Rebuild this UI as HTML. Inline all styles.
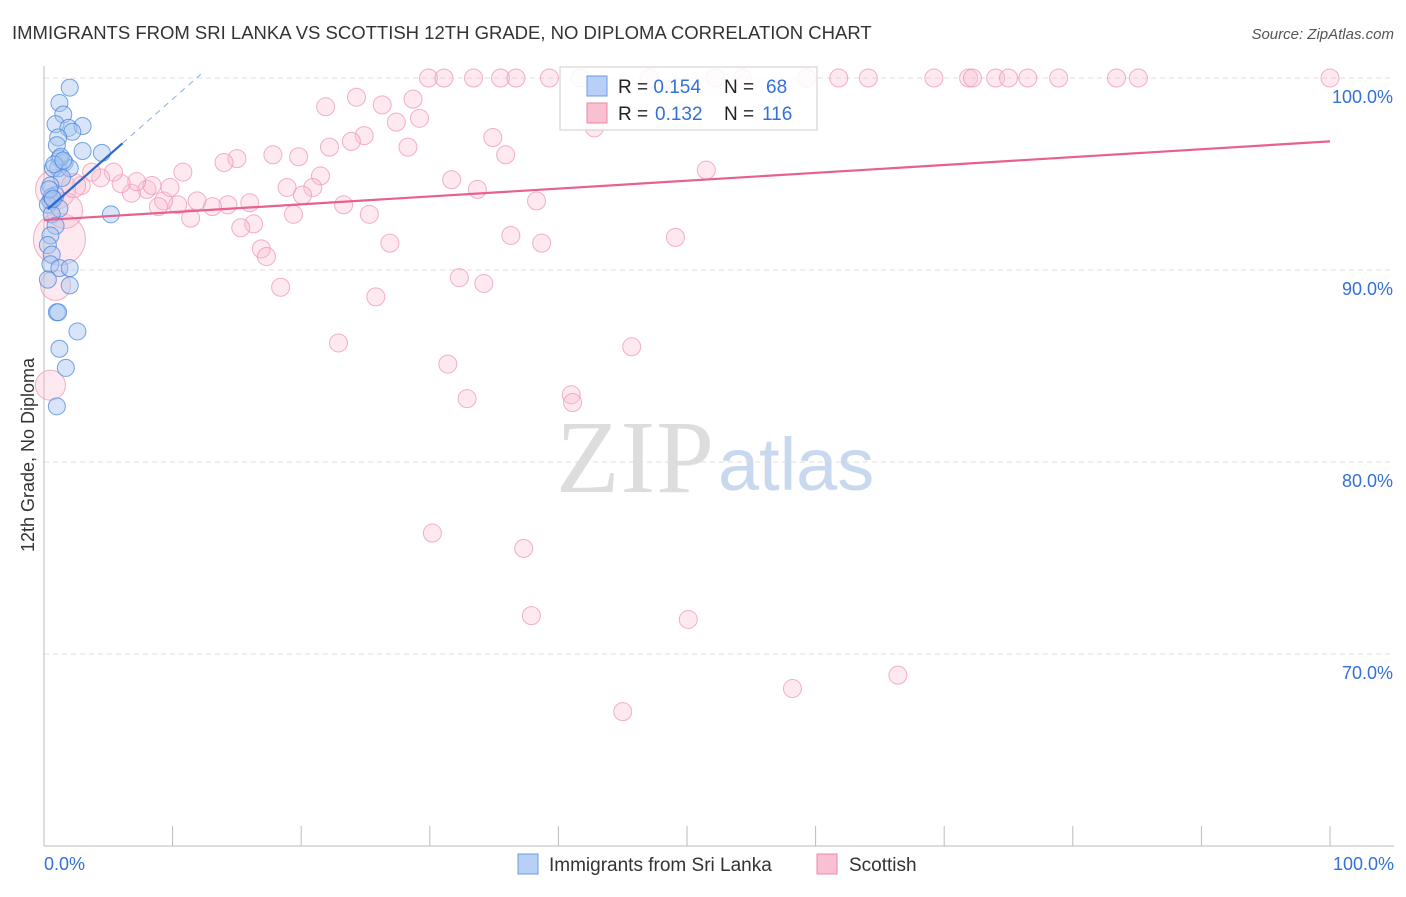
<!DOCTYPE html>
<html><head><meta charset="utf-8"><style>
body{margin:0;background:#fff;font-family:"Liberation Sans",sans-serif;}
</style></head><body>
<svg id="chart" width="1406" height="892" xmlns="http://www.w3.org/2000/svg" font-family="Liberation Sans, sans-serif">
<text x="12" y="39" font-size="18.5" fill="#333">IMMIGRANTS FROM SRI LANKA VS SCOTTISH 12TH GRADE, NO DIPLOMA CORRELATION CHART</text>
<text x="1394" y="39" font-size="15" fill="#555" text-anchor="end" font-style="italic">Source: ZipAtlas.com</text>
<text transform="translate(34,455) rotate(-90)" font-size="18" fill="#333" text-anchor="middle">12th Grade, No Diploma</text>
<text x="714" y="492" font-size="104" text-anchor="end" fill="#ddd" font-family="Liberation Serif, serif" textLength="158">ZIP</text>
<text x="718" y="490" font-size="74" fill="#c8d8ee">atlas</text>
<g id="grid"></g><g id="pts"></g><g id="lines"></g>
<g>
<rect x="560" y="67" width="257" height="63" fill="#fff" fill-opacity="0.85" stroke="#ccc"/>
<rect x="587" y="76" width="20" height="20" fill="#b8d0f5" stroke="#6a9de8"/>
<rect x="587" y="103" width="20" height="20" fill="#f8c0d0" stroke="#ee88a8"/>
<text x="618" y="93" font-size="19" fill="#222">R = <tspan fill="#3370d8">0.154</tspan><tspan x="724">N = </tspan><tspan x="766" fill="#3370d8">68</tspan></text>
<text x="618" y="120" font-size="19" fill="#222">R = <tspan x="655" fill="#3370d8">0.132</tspan><tspan x="724">N = </tspan><tspan x="762" fill="#3370d8">116</tspan></text>
</g>
<g>
<rect x="518" y="854" width="20" height="20" fill="#b8d0f5" stroke="#6a9de8"/>
<text x="549" y="871" font-size="19" fill="#333">Immigrants from Sri Lanka</text>
<rect x="817" y="854" width="20" height="20" fill="#f8c0d0" stroke="#ee88a8"/>
<text x="849" y="871" font-size="19" fill="#333">Scottish</text>
</g>
</svg>
<script>
const yTicks=[100,90,80,70];
const xTickLabels=["0.0%","100.0%"];
const pinkX=[29.9,31.1,33.4,35.5,36.7,39.3,41.7,47.1,52.2,54.3,59.3,61.8,64.1,69.2,71.9,72.2,74.0,75.0,76.5,78.9,83.4,85.1,100,
21.9,24.3,26.3,28.7,29.2,27.4,24.9,23.9,22.2,28.3,34.9,35.9,42.8,17.8,19.8,15.0,14.0,10.8,51.5,21.5,31.7,18.9,20.9,33.7,20.1,38.3,23.3,25.3,19.4,16.0,14.3,13.1,11.9,10.4,11.4,9.3,8.9,8.0,6.8,9.8,8.4,7.2,6.0,5.4,4.4,3.7,2.9,16.3,15.3,16.9,17.3,26.9,36.3,38.7,49.1,32.3,34.2,18.4,25.8,22.9,45.7,31.4,41.0,41.1,32.9,30.2,37.3,37.9,50.1,58.2,66.4,45.0,1.2,0.9,1.6,0.5,0.9,2.3];
const pinkY=[100,100,100,100,100,100,100,100,100,100,100,100,100,100,100,100,100,100,100,100,100,100,100,
98.5,99.0,98.6,98.9,97.9,97.7,97.0,96.7,96.4,96.4,96.9,96.0,97.4,96.0,95.9,95.8,95.6,95.1,95.2,94.9,94.7,94.3,94.3,94.2,93.9,93.6,93.4,92.9,92.9,93.5,93.4,93.3,93.6,93.4,92.7,93.6,93.3,94.2,94.0,94.3,94.4,94.6,94.5,95.1,94.8,95.1,94.4,92.4,92.2,91.1,90.7,91.4,91.8,91.4,91.7,89.6,89.3,89.1,88.6,86.2,86.0,85.1,83.5,83.1,83.3,76.3,75.5,72.0,71.8,68.2,68.9,67.0,91.6,94.2,93.1,84.0,89.2,94.4];
const pinkR=[];for(let i=0;i<pinkX.length;i++)pinkR.push(9);
pinkR[pinkR.length-6]=26;pinkR[pinkR.length-5]=20;pinkR[pinkR.length-4]=18;pinkR[pinkR.length-3]=15;pinkR[pinkR.length-2]=15;pinkR[pinkR.length-1]=12;
const blueX=[2.0,1.2,1.5,0.9,1.9,3.0,2.2,1.1,1.0,3.0,4.5,1.2,1.6,1.1,0.7,2.0,1.4,0.5,0.9,0.5,0.3,1.2,0.6,0.9,0.5,0.3,0.6,0.5,1.2,2.0,0.3,2.0,1.0,2.6,1.2,1.7,1.0,5.2,0.6,1.3,0.8,1.5,0.4,0.7,1.1];
const blueY=[99.5,98.7,98.1,97.6,97.4,97.5,97.2,96.9,96.5,96.2,96.1,95.8,95.6,95.3,95.3,95.3,94.8,94.4,93.9,93.6,93.4,93.2,92.9,92.3,91.8,91.3,90.8,90.3,90.1,90.1,89.5,89.2,87.8,86.8,85.9,84.9,82.9,92.9,93.8,95.9,95.5,95.7,94.2,93.7,87.8];
const trendPink=[92.6,96.7];
const trendBlue=[93.0,0.59];
const NS="http://www.w3.org/2000/svg";
const X0=44,X1=1330;
const xs=v=>X0+v*(X1-X0)/100;
const ys=v=>78+(100-v)*19.2;
function mk(t,a,p){const e=document.createElementNS(NS,t);for(const k in a)e.setAttribute(k,a[k]);p.appendChild(e);return e;}
const grid=document.getElementById('grid');
yTicks.forEach(v=>{
 const l=mk('line',{x1:X0,x2:1394,y1:ys(v),y2:ys(v),stroke:'#ddd','stroke-dasharray':'5,4'},grid);
 
 
 const t=mk('text',{x:1393,y:ys(v)+25,'font-size':18,fill:'#3370d8','text-anchor':'end'},grid);
 t.textContent=v.toFixed(1)+'%';
 
 
});
const ax=mk('line',{x1:X0,x2:X0,y1:66,y2:846,stroke:'#bbb'},grid);


const bx=mk('line',{x1:X0,x2:1394,y1:846,y2:846,stroke:'#bbb'},grid);


for(let i=0;i<=10;i++){const t=mk('line',{x1:xs(i*10),x2:xs(i*10),y1:826,y2:846,stroke:'#bbb'},grid);
 
 }
[[0,'start',44],[100,'end',1394]].forEach((d,i)=>{const t=mk('text',{x:d[2],y:870,'font-size':18,fill:'#3370d8','text-anchor':d[1]},grid);t.textContent=xTickLabels[i];
 
 });
const pts=document.getElementById('pts');
pinkX.forEach((v,i)=>{const c=mk('circle',{cx:xs(v),cy:ys(pinkY[i]),r:pinkR[i],fill:'#f8c0d0','fill-opacity':0.35,stroke:'#ee90ae','stroke-opacity':0.7},pts);
 
 });
blueX.forEach((v,i)=>{const c=mk('circle',{cx:xs(v),cy:ys(blueY[i]),r:8.5,fill:'#a8c6f0','fill-opacity':0.45,stroke:'#4a86dc','stroke-opacity':0.75},pts);
 
 });
const lines=document.getElementById('lines');
const pl=mk('line',{x1:xs(0),y1:ys(trendPink[0]),x2:xs(100),y2:ys(trendPink[1]),stroke:'#e8608e','stroke-width':2.2},lines);


const bl=mk('line',{x1:xs(0.3),y1:ys(trendBlue[0]+0.3*trendBlue[1]),x2:xs(6.1),y2:ys(trendBlue[0]+6.1*trendBlue[1]),stroke:'#2a6ad0','stroke-width':2.2},lines);


const bd=mk('line',{x1:xs(6.1),y1:ys(trendBlue[0]+6.1*trendBlue[1]),x2:xs(12.2),y2:ys(trendBlue[0]+12.2*trendBlue[1]),stroke:'#8aaee8','stroke-width':1,'stroke-dasharray':'6,5'},lines);


</script>
</body></html>
